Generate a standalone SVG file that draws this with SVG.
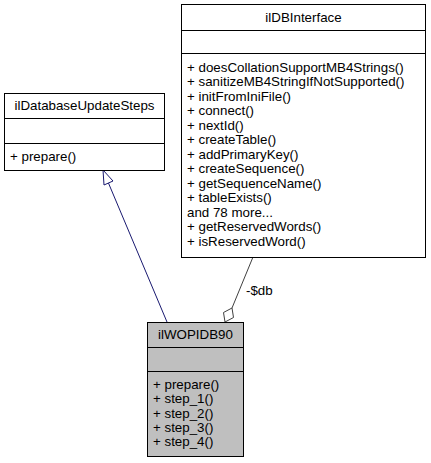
<svg xmlns="http://www.w3.org/2000/svg" width="431" height="463" viewBox="0 0 431 463">
<style>
text{font-family:"Liberation Sans",Arial,Helvetica,sans-serif;font-size:13.33px;fill:#000}
.t{text-anchor:middle}
.box{fill:#fff;stroke:#000;stroke-width:1}
.cur{fill:#bfbfbf;stroke:#000;stroke-width:1}
.sep{stroke:#000;stroke-width:1}
</style>
<rect width="431" height="463" fill="#fff"/>
<g id="edges">
<g id="edge-inherit">
<line x1="167" y1="322" x2="108.4" y2="182.9" stroke="#191970" stroke-width="1"/>
<polygon points="103,170 113,181 104,185" fill="#fff" stroke="#191970" stroke-width="1"/>
</g>
<g id="edge-db">
<line x1="253" y1="257" x2="232" y2="308" stroke="#404040" stroke-width="1"/>
<polygon points="225,322 223.5,312.5 232,308 233.5,317.5" fill="#fff" stroke="#404040" stroke-width="1"/>
<text x="246" y="295">-$db</text>
</g>
</g>
<g id="ilDBInterface">
<rect class="box" x="181.5" y="4.5" width="244" height="253"/>
<line class="sep" x1="181.5" y1="30.5" x2="425.5" y2="30.5"/>
<line class="sep" x1="181.5" y1="53.5" x2="425.5" y2="53.5"/>
<text class="t" x="303.5" y="22">ilDBInterface</text>
<text x="187" y="71.5">+ doesCollationSupportMB4Strings()</text>
<text x="187" y="86">+ sanitizeMB4StringIfNotSupported()</text>
<text x="187" y="100.5">+ initFromIniFile()</text>
<text x="187" y="115">+ connect()</text>
<text x="187" y="129.5">+ nextId()</text>
<text x="187" y="144">+ createTable()</text>
<text x="187" y="158.5">+ addPrimaryKey()</text>
<text x="187" y="173">+ createSequence()</text>
<text x="187" y="187.5">+ getSequenceName()</text>
<text x="187" y="202">+ tableExists()</text>
<text x="187" y="216.5">and 78 more...</text>
<text x="187" y="231">+ getReservedWords()</text>
<text x="187" y="245.5">+ isReservedWord()</text>
</g>
<g id="ilDatabaseUpdateSteps">
<rect class="box" x="4.5" y="93.5" width="160" height="77"/>
<line class="sep" x1="4.5" y1="118.5" x2="164.5" y2="118.5"/>
<line class="sep" x1="4.5" y1="143.5" x2="164.5" y2="143.5"/>
<text class="t" x="84.5" y="110">ilDatabaseUpdateSteps</text>
<text x="10" y="161">+ prepare()</text>
</g>
<g id="ilWOPIDB90">
<rect class="cur" x="147.5" y="322.5" width="96" height="134"/>
<line class="sep" x1="147.5" y1="347.5" x2="243.5" y2="347.5"/>
<line class="sep" x1="147.5" y1="371.5" x2="243.5" y2="371.5"/>
<text class="t" x="195.5" y="339">ilWOPIDB90</text>
<text x="153" y="389">+ prepare()</text>
<text x="153" y="403.3">+ step_1()</text>
<text x="153" y="417.5">+ step_2()</text>
<text x="153" y="431.8">+ step_3()</text>
<text x="153" y="446">+ step_4()</text>
</g>
</svg>
